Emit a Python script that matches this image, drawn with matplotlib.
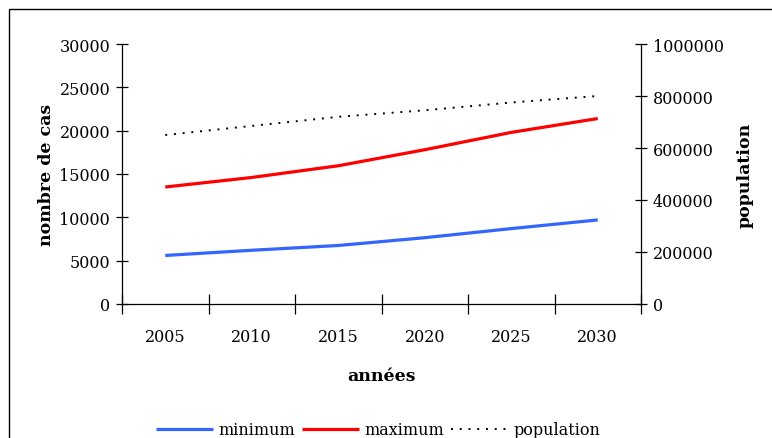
import matplotlib
matplotlib.use("Agg")
import matplotlib.pyplot as plt
from matplotlib.patches import Rectangle
from matplotlib.ticker import FuncFormatter

# yearly estimates
annees = ["2005", "2010", "2015", "2020", "2025", "2030"]
minimum = [5600, 6200, 6750, 7650, 8700, 9700]
maximum = [13500, 14600, 15950, 17800, 19800, 21400]
population = [650000, 685000, 720000, 745000, 775000, 800000]

plt.rcParams["font.family"] = "DejaVu Serif"
plt.rcParams["font.size"] = 11.5

W, H = 772, 439
fig = plt.figure(figsize=(W / 100, H / 100), dpi=100)
ax = fig.add_axes([122 / W, 1 - 305 / H, (641 - 122) / W, (305 - 45) / H])
ax2 = ax.twinx()

x = list(range(len(annees)))
l1, = ax.plot(x, minimum, color="#3366ff", lw=2.3, solid_capstyle="butt")
l2, = ax.plot(x, maximum, color="#ff0000", lw=2.3, solid_capstyle="butt")
l3, = ax2.plot(x, population, color="black", lw=1.4, linestyle=(0, (1, 3.5)))

ax.set_xlim(-0.5, len(annees) - 0.5)
ax.set_ylim(0, 30000)
ax.set_yticks(range(0, 30001, 5000))
ax2.set_ylim(0, 1000000)
ax2.set_yticks(range(0, 1000001, 200000))
ax2.yaxis.set_major_formatter(FuncFormatter(lambda v, p: f"{int(v)}"))

ax.set_xticks(x)
ax.set_xticklabels(annees)
ax.set_xticks([i - 0.5 for i in range(len(annees) + 1)], minor=True)
ax.tick_params(axis="x", which="major", length=0, pad=17)
ax.tick_params(axis="x", which="minor", direction="inout", length=14, width=0.9)
ax.tick_params(axis="y", direction="inout", length=9, width=0.9, pad=4)
ax2.tick_params(axis="y", direction="inout", length=9, width=0.9, pad=4)

for a in (ax, ax2):
    a.spines["top"].set_visible(False)
    for s in a.spines.values():
        s.set_linewidth(0.9)
ax.spines["right"].set_visible(False)
ax2.spines["left"].set_visible(False)
ax2.spines["bottom"].set_visible(False)

ax.set_ylabel("nombre de cas", fontweight="bold", fontsize=12.5, labelpad=3)
ax2.set_ylabel("population", fontweight="bold", fontsize=12.5, rotation=90,
               labelpad=9)
ax.set_xlabel("années", fontweight="bold", fontsize=12.5, labelpad=16)

fig.legend([l1, l2, l3], ["minimum", "maximum", "population"],
           loc="center", bbox_to_anchor=(378 / W, 1 - 431 / H), ncol=3,
           frameon=False, handlelength=3.6, handletextpad=0.3,
           columnspacing=0.45)

# outer chart frame
fig.patches.append(Rectangle((9 / W, -0.1), 1.2, 1 - 10 / H + 0.1,
                             transform=fig.transFigure, fill=False,
                             edgecolor="black", lw=1.0))

fig.savefig("out.png", dpi=100)
